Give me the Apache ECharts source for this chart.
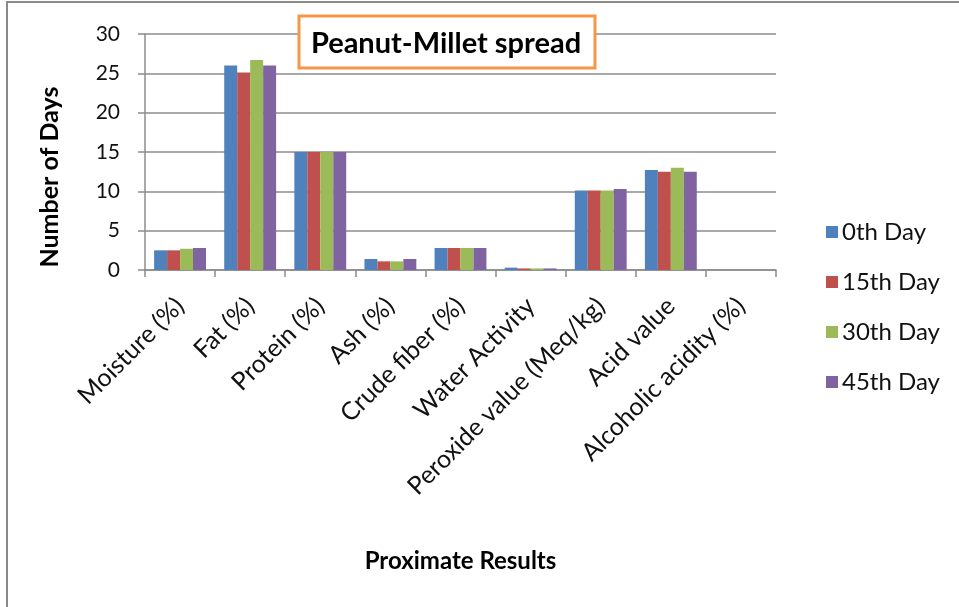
<!DOCTYPE html>
<html>
<head>
<meta charset="utf-8">
<script src="https://cdn.jsdelivr.net/npm/echarts@6/dist/echarts.min.js"></script>
<style>
  html, body { margin: 0; padding: 0; background: #fff; }
  #chart { width: 959px; height: 607px; }
</style>
</head>
<body>
<div id="chart"></div>
<script>
// Proximate composition of peanut-millet spread over storage
const categories = [
  'Moisture (%)', 'Fat (%)', 'Protein (%)', 'Ash (%)', 'Crude fiber (%)',
  'Water Activity', 'Peroxide value (Meq/kg)', 'Acid value', 'Alcoholic acidity (%)'
];
const seriesNames = ['0th Day', '15th Day', '30th Day', '45th Day'];
const day0  = [2.5, 26.0, 15.0, 1.4, 2.8, 0.3, 10.1, 12.7, 0];
const day15 = [2.5, 25.1, 15.0, 1.1, 2.8, 0.2, 10.1, 12.5, 0];
const day30 = [2.7, 26.7, 15.0, 1.1, 2.8, 0.2, 10.1, 13.0, 0];
const day45 = [2.8, 26.0, 15.0, 1.4, 2.8, 0.2, 10.3, 12.5, 0];
const yTicks = [0, 5, 10, 15, 20, 25, 30];

const colors = ['#4F81BD', '#C0504D', '#9BBB59', '#8064A2'];
const font = 'Lato, "Open Sans", sans-serif';
const values = [day0, day15, day30, day45];

const chart = echarts.init(document.getElementById('chart'), null, { renderer: 'canvas' });

chart.setOption({
  animation: false,
  color: colors,
  textStyle: { fontFamily: font },
  grid: { left: 145, right: 183, top: 34, bottom: 337 },
  graphic: [
    {
      type: 'rect',
      shape: { x: 7, y: 2, width: 980, height: 640 },
      style: { fill: 'none', stroke: '#8a8a8a', lineWidth: 2 },
      silent: true
    },
    {
      type: 'rect',
      shape: { x: 299, y: 16, width: 296, height: 52 },
      style: { fill: '#fff', stroke: '#F79646', lineWidth: 3 },
      z: 10
    },
    {
      type: 'text',
      x: 446, y: 44,
      style: {
        text: 'Peanut-Millet spread',
        font: 'bold 29px ' + font,
        fill: '#000',
        align: 'center',
        verticalAlign: 'middle'
      },
      z: 11
    },
    {
      type: 'text',
      x: 50, y: 177,
      rotation: Math.PI / 2,
      style: {
        text: 'Number of Days',
        font: 'bold 25px ' + font,
        fill: '#000',
        align: 'center',
        verticalAlign: 'middle'
      }
    }
  ],
  legend: {
    orient: 'vertical',
    left: 821,
    top: 215,
    itemWidth: 12,
    itemHeight: 12,
    itemGap: 26,
    icon: 'rect',
    textStyle: { fontSize: 24, color: '#111', fontFamily: font, padding: [0, 0, 0, -1] },
    data: seriesNames
  },
  xAxis: {
    type: 'category',
    data: categories,
    name: 'Proximate Results',
    nameLocation: 'middle',
    nameGap: 279,
    nameTextStyle: { fontSize: 24, fontWeight: 'bold', color: '#000', fontFamily: font },
    axisLine: { lineStyle: { color: '#8c8c8c', width: 1.5 } },
    axisTick: { show: true, length: 7, lineStyle: { color: '#8c8c8c', width: 1.5 } },
    axisLabel: {
      rotate: 45,
      interval: 0,
      margin: 32,
      fontSize: 25,
      color: '#111',
      fontFamily: font
    }
  },
  yAxis: {
    type: 'value',
    min: yTicks[0],
    max: yTicks[yTicks.length - 1],
    interval: 5,
    axisLine: { show: true, lineStyle: { color: '#8c8c8c', width: 1.5 } },
    axisTick: { show: true, length: 7, lineStyle: { color: '#8c8c8c', width: 1.5 } },
    axisLabel: { fontSize: 21, color: '#111', margin: 25, fontFamily: font },
    splitLine: { lineStyle: { color: '#8c8c8c', width: 1.5 } }
  },
  series: seriesNames.map((name, i) => ({
    name: name,
    type: 'bar',
    data: values[i],
    barGap: '0%',
    barCategoryGap: '26%',
    itemStyle: { color: colors[i] }
  }))
});
</script>
</body>
</html>
